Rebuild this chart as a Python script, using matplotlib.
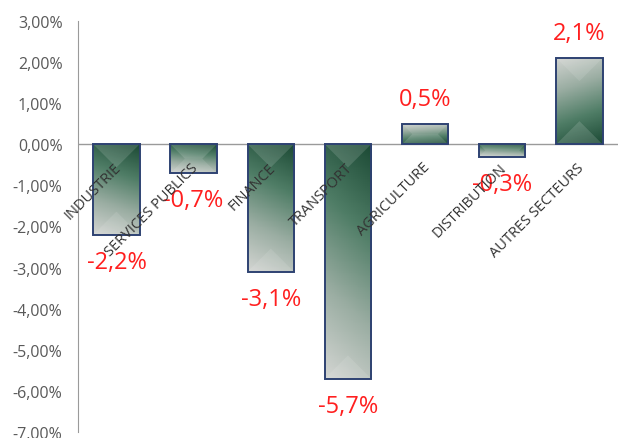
import numpy as np
import matplotlib
matplotlib.use("Agg")
import matplotlib.pyplot as plt
from matplotlib.colors import LinearSegmentedColormap
from matplotlib.patches import Polygon
from matplotlib.ticker import FuncFormatter

plt.rcParams['font.family'] = ['Open Sans', 'DejaVu Sans']

# Données
secteurs = ["INDUSTRIE", "SERVICES PUBLICS", "FINANCE", "TRANSPORT",
            "AGRICULTURE", "DISTRIBUTION", "AUTRES SECTEURS"]
variations = [-2.2, -0.7, -3.1, -5.7, 0.5, -0.3, 2.1]
etiquettes = ["-2,2%", "-0,7%", "-3,1%", "-5,7%", "0,5%", "-0,3%", "2,1%"]

cmap = LinearSegmentedColormap.from_list(
    "vert", ["#1c4a35", "#4f7d66", "#9aada2", "#d3d5d2"])

fig = plt.figure(figsize=(6.18, 4.39), dpi=100)
ax = fig.add_axes([0.126, 0.0137, 0.874, 0.9362])
ax.set_xlim(-0.5, len(secteurs) - 0.5)
ax.set_ylim(-7, 3)

x = np.arange(len(secteurs))
bars = ax.bar(x, variations, width=0.6, color='none',
              edgecolor='#2e4272', linewidth=1.4, zorder=4)

# pixels par unité (pour le biseau)
bbox = ax.get_window_extent()
px_y = bbox.height / 10.0
px_x = bbox.width / len(secteurs)

# dégradé dans chaque barre
h, w = 100, 20
yy, xx = np.mgrid[0:1:h * 1j, 0:1:w * 1j]
for b, v in zip(bars, variations):
    x0 = b.get_x()
    x1 = x0 + b.get_width()
    t = np.clip(0.85 * yy + 0.15 * (1 - xx), 0, 1)
    if v < 0:
        img = t
        ext = (x0, x1, v, 0)
    else:
        img = t[::-1]
        ext = (x0, x1, 0, v)
    im = ax.imshow(img, cmap=cmap, extent=ext, aspect='auto',
                   origin='upper', zorder=2, vmin=0, vmax=1)
    im.set_clip_path(b)

    # biseau aux deux extrémités
    half_px = b.get_width() * px_x / 2
    d_px = min(half_px, abs(v) * px_y / 2)
    d = d_px / px_y * np.sign(v)
    dx = d_px / px_x
    for y_end, sgn, a in [(0, 1, 0.14), (v, -1, 0.10)]:
        poly = Polygon([(x0, y_end), (x1, y_end),
                        (x1 - dx, y_end + sgn * d), (x0 + dx, y_end + sgn * d)],
                       closed=True, facecolor='white', alpha=a,
                       edgecolor='none', zorder=3)
        ax.add_patch(poly)

ax.axhline(0, color='#9a9a9a', linewidth=1, zorder=1)

for xi, v, lab in zip(x, variations, etiquettes):
    if v < 0:
        ax.annotate(lab, (xi, v), xytext=(0, -11), textcoords='offset points',
                    ha='center', va='top', color='#ff1f1f', fontsize=17)
    else:
        ax.annotate(lab, (xi, v), xytext=(0, 9), textcoords='offset points',
                    ha='center', va='bottom', color='#ff1f1f', fontsize=17)

for xi, s in zip(x, secteurs):
    ax.annotate(s, (xi, 0), xytext=(-2, -11), textcoords='offset points',
                ha='right', va='top', rotation=45, rotation_mode='anchor',
                fontsize=10.5, color='#333333', zorder=5)

ax.set_yticks(np.arange(-7, 4, 1))
ax.yaxis.set_major_formatter(FuncFormatter(lambda v, p: f"{v:.2f}%".replace('.', ',')))
ax.tick_params(axis='y', length=0, pad=11, labelsize=11.5, labelcolor='#595959')
ax.set_xticks([])
for sp in ['top', 'right', 'bottom']:
    ax.spines[sp].set_visible(False)
ax.spines['left'].set_color('#9a9a9a')

fig.savefig("out.png", dpi=100)
